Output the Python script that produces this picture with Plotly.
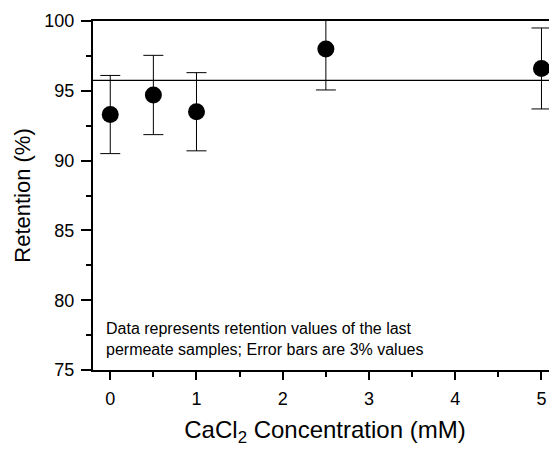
import plotly.graph_objects as go

conc = [0, 0.5, 1, 2.5, 5]
retention = [93.3, 94.7, 93.5, 98.0, 96.6]
err = [2.8, 2.84, 2.8, 2.94, 2.9]
ref_line = 95.75
note_lines = ["Data represents retention values of the last",
              "permeate samples; Error bars are 3% values"]

FONT = "Liberation Sans, Arial, sans-serif"

fig = go.Figure()
fig.add_trace(go.Scatter(
    x=conc, y=retention, mode="markers",
    marker=dict(color="black", size=17),
    error_y=dict(type="data", array=err, visible=True, color="black",
                 thickness=1, width=10),
    showlegend=False, cliponaxis=True))
fig.add_hline(y=ref_line, line=dict(color="black", width=1.2))
fig.add_annotation(x=0, y=0, xref="paper", yref="paper",
                   text="<br>".join(note_lines), showarrow=False,
                   xanchor="left", yanchor="bottom", align="left",
                   xshift=11, yshift=10,
                   font=dict(family=FONT, size=16, color="black"))

fig.update_layout(
    width=549, height=442,
    margin=dict(l=85, r=0, t=13, b=80),
    plot_bgcolor="white", paper_bgcolor="white",
    font=dict(family=FONT, color="black"),
)
fig.update_xaxes(
    range=[-0.2, 5.18], showgrid=False, zeroline=False,
    showline=True, linecolor="black", linewidth=2, mirror=True,
    ticks="outside", tickwidth=2, ticklen=8, tickcolor="black",
    tickvals=[0, 1, 2, 3, 4, 5], ticklabelstandoff=3,
    minor=dict(tickvals=[0.5, 1.5, 2.5, 3.5, 4.5], ticks="outside", ticklen=5,
               tickwidth=1.5, tickcolor="black"),
    tickfont=dict(size=18, family=FONT),
    title=dict(text="CaCl<sub>2</sub> Concentration (mM)", font=dict(size=24, family=FONT),
               standoff=14),
)
fig.update_yaxes(
    range=[75, 100], showgrid=False, zeroline=False,
    showline=True, linecolor="black", linewidth=2,
    ticks="outside", tickwidth=2, ticklen=10, tickcolor="black",
    tickvals=[75, 80, 85, 90, 95, 100], ticklabelstandoff=3,
    minor=dict(tickvals=[77.5, 82.5, 87.5, 92.5, 97.5], ticks="outside", ticklen=5,
               tickwidth=1.5, tickcolor="black"),
    tickfont=dict(size=18, family=FONT),
    title=dict(text="Retention (%)", font=dict(size=22, family=FONT), standoff=8),
)
fig.write_html("out.html")
